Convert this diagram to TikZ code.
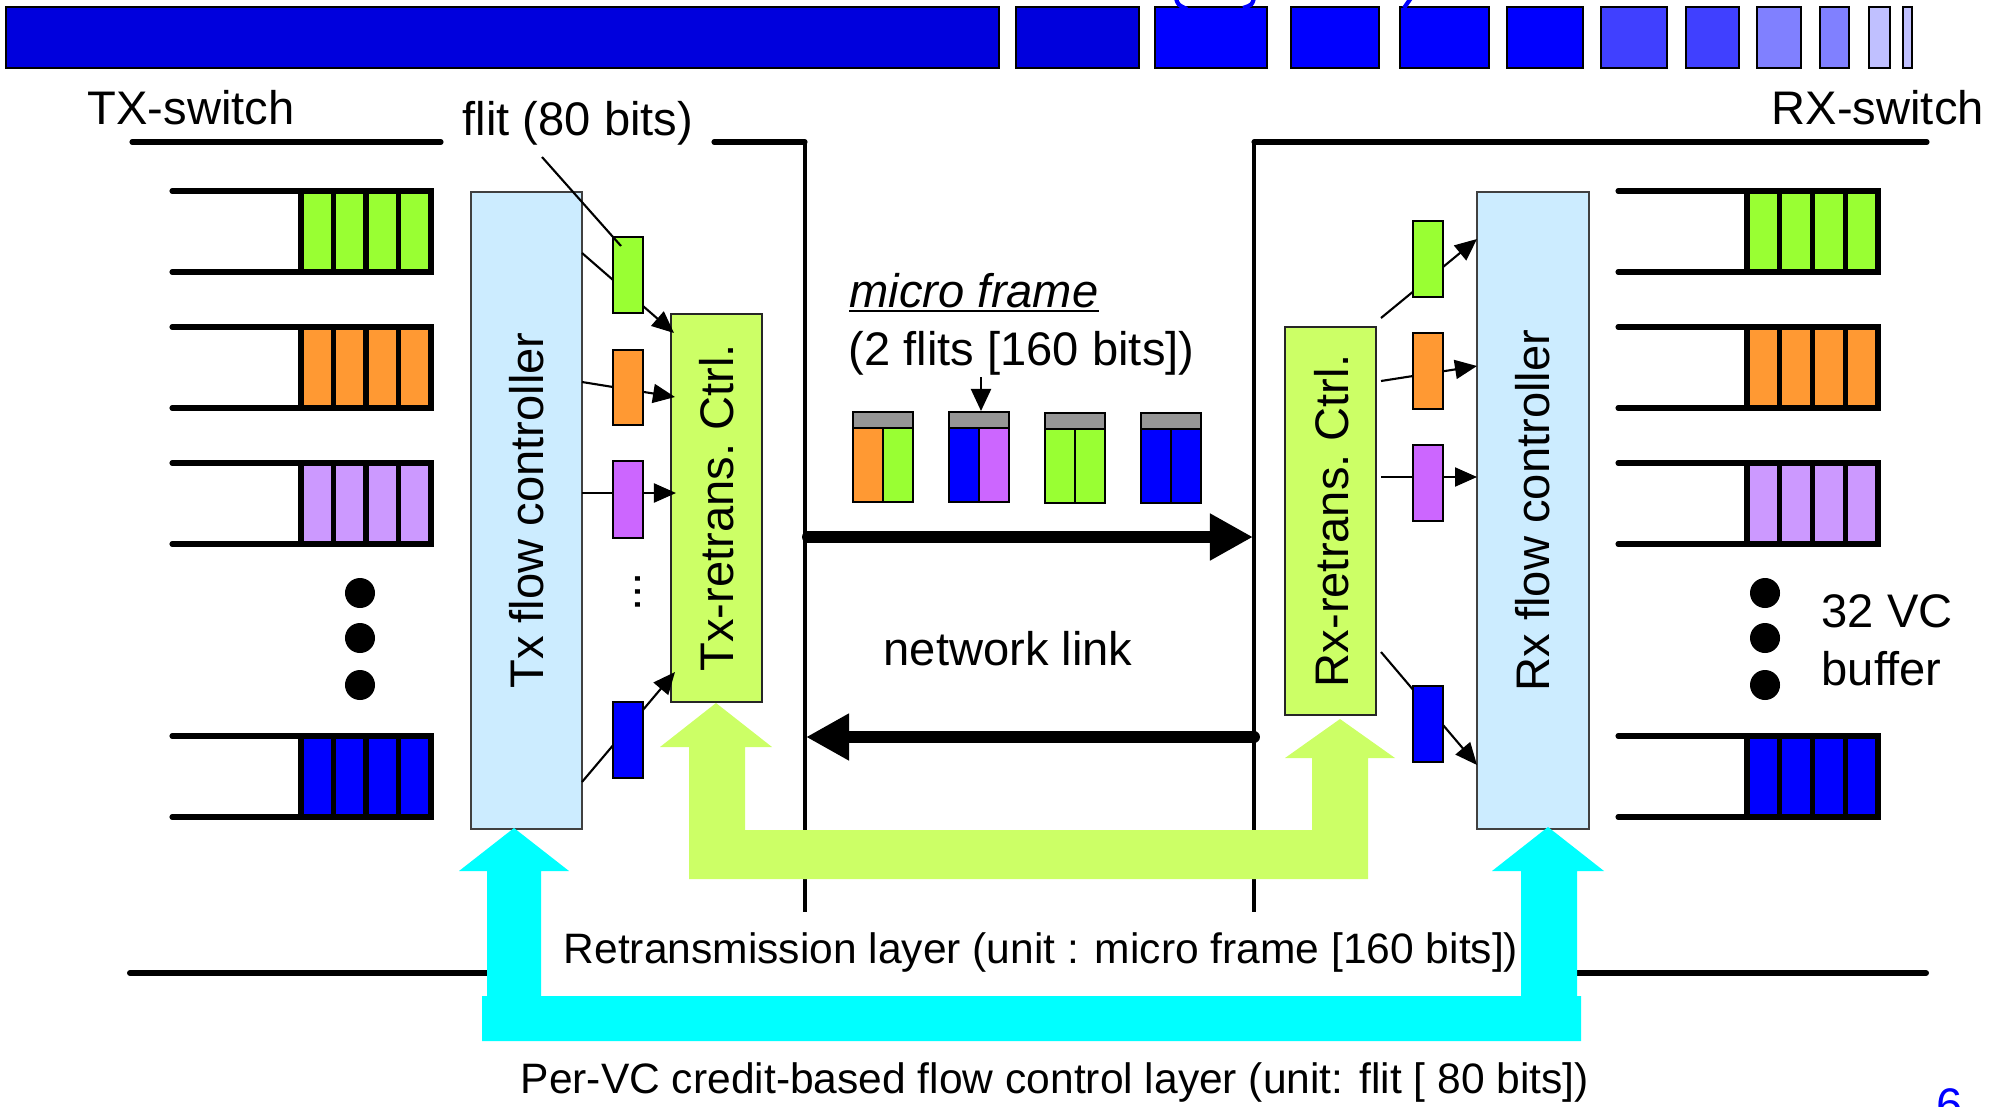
\documentclass[tikz,border=0pt]{standalone}
\usepackage{fontspec}
\setmainfont{Liberation Sans}
\usetikzlibrary{arrows.meta,fit}

\definecolor{flitgreen}{HTML}{99FF33}
\definecolor{flitorange}{HTML}{FF9933}
\definecolor{queuepurple}{HTML}{CC99FF}
\definecolor{flitpurple}{HTML}{CC66FF}
\definecolor{ctrlblue}{HTML}{CCECFF}
\definecolor{retransgreen}{HTML}{CCFF66}
\definecolor{headergray}{HTML}{969696}
\definecolor{creditcyan}{HTML}{00FFFF}

\newcommand\mainsize{\fontsize{13.4pt}{16pt}\selectfont}
\newcommand\layersize{\fontsize{12.1pt}{14.5pt}\selectfont}

% VC queue: #1 line start x, #2 box left, #3 box right, #4 top y, #5 colour
\newcommand\vcqueue[5]{%
  \fill[#5] (#2,#4) rectangle (#3,{#4+81});
  \draw[thk] (#1,#4) -- (#3,#4);
  \draw[thk] (#1,{#4+81}) -- (#3,{#4+81});
  \draw[thk,line cap=butt,line join=miter] (#2,#4) rectangle (#3,{#4+81});
  \foreach \k in {1,2,3}
    \draw[thk,line cap=butt] ({#2+\k*(#3-#2)/4},#4) -- ({#2+\k*(#3-#2)/4},{#4+81});
}

% micro frame: #1 left x, #2 top y, #3 left flit colour, #4 right flit colour
\newcommand\microframe[4]{%
  \filldraw[fill=headergray,hair] (#1,#2) rectangle ({#1+60},{#2+16});
  \filldraw[fill=#3,hair] (#1,{#2+16}) rectangle ({#1+30},{#2+90});
  \filldraw[fill=#4,hair] ({#1+30},{#2+16}) rectangle ({#1+60},{#2+90});
}

\begin{document}
\begin{tikzpicture}[x=0.01cm,y=-0.01cm,
  thk/.style={line width=1.45pt,line cap=round},
  hair/.style={line width=0.6pt},
  flitarrow/.style={hair,-{Triangle[length=0.22cm,width=0.19cm]}},
  linkarrow/.style={line width=3.4pt,line cap=round,-{Triangle[length=0.43cm,width=0.44cm]}},
  flitbox/.style={draw=black,line width=0.6pt,inner sep=0pt},
  ctrlbox/.style={draw=black!75,line width=0.6pt,fill=ctrlblue,inner sep=0pt},
  rtbox/.style={draw=black!85,line width=0.6pt,fill=retransgreen,inner sep=0pt},
  topbar/.style={draw=black,line width=0.5pt},
  lbl/.style={inner sep=0pt,anchor=base west,font=\mainsize},
  vlbl/.style={inner sep=0pt,rotate=90,font=\mainsize},
]
\useasboundingbox (0,0) rectangle (2000,1106);
\clip (0,0) rectangle (2000,1106);

% ---- title bar ----
\foreach \a/\b/\c in {6/999/0000DD,1016/1139/0000DD,1155/1267/0000FF,1291/1379/0000FF,
    1400/1489/0000FF,1507/1583/0000FF,1601/1667/4040FF,1686/1739/4040FF,
    1757/1801/8080FF,1820/1849/8080FF,1869/1890/C0C0FF,1903/1912/C0C0FF}{
  \definecolor{barfill}{HTML}{\c}
  \draw[topbar,fill=barfill] (\a,7) rectangle (\b,68);
}
\draw[blue,line width=1.2pt] (1176,-2) .. controls (1178,5) .. (1187,9);
\draw[blue,line width=1.2pt] (1254,-2) .. controls (1252,5) .. (1243,8);
\draw[blue,line width=1.2pt] (1411,-2) -- (1404,8);

% ---- switch outlines and layer boundary ----
\draw[thk] (132,142) -- (441,142);
\draw[thk] (714,142) -- (805,142);
\draw[line width=1.3pt] (805,142) -- (805,912);
\draw[thk] (1927,142) -- (1254,142);
\draw[line width=1.3pt] (1254,142) -- (1254,912);
\draw[line width=1.7pt,line cap=round] (130,973) -- (488,973);
\draw[line width=1.7pt,line cap=round] (1576,973) -- (1926,973);

% ---- VC buffers ----
\vcqueue{172}{301}{431}{191}{flitgreen}
\vcqueue{172}{301}{431}{327}{flitorange}
\vcqueue{172}{301}{431}{463}{queuepurple}
\vcqueue{172}{301}{431}{736}{blue}
\vcqueue{1618}{1747}{1878}{191}{flitgreen}
\vcqueue{1618}{1747}{1878}{327}{flitorange}
\vcqueue{1618}{1747}{1878}{463}{queuepurple}
\vcqueue{1618}{1747}{1878}{736}{blue}
\foreach \yy in {593,638,685}{
  \fill (360,\yy) circle[radius=0.15cm];
  \fill (1765,\yy) circle[radius=0.15cm];
}

% ---- controllers ----
\node[ctrlbox,fit={(471,192) (582,829)}] (txfc) {};
\node[vlbl] at (txfc.center) {Tx flow controller};
\node[rtbox,fit={(671,314) (762,702)}] (txrc) {};
\node[vlbl] at (txrc.center) {Tx-retrans.\ Ctrl.};
\node[ctrlbox,fit={(1477,192) (1589,829)}] (rxfc) {};
\node[vlbl] at (rxfc.center) {Rx flow controller};
\node[rtbox,fit={(1285,327) (1376,715)}] (rxrc) {};
\node[vlbl] at ([xshift=0.3pt]rxrc.center) {Rx-retrans.\ Ctrl.};

% ---- flits leaving the Tx flow controller ----
\coordinate (tg0) at (582,253); \coordinate (tg1) at (674,333);
\coordinate (to0) at (582,382); \coordinate (to1) at (675,397);
\coordinate (tp0) at (582,493); \coordinate (tp1) at (676,493);
\coordinate (tb0) at (582,782); \coordinate (tb1) at (675,672);
\draw[flitarrow] (tg0) -- (tg1);
\draw[flitarrow] (to0) -- (to1);
\draw[flitarrow] (tp0) -- (tp1);
\draw[flitarrow] (tb0) -- (tb1);
\node[flitbox,fill=flitgreen,fit={(613,237) (643,313)}] (tf1) {};
\node[flitbox,fill=flitorange,fit={(613,350) (643,425)}] (tf2) {};
\node[flitbox,fill=flitpurple,fit={(613,461) (643,538)}] (tf3) {};
\node[flitbox,fill=blue,fit={(613,702) (643,778)}] (tf4) {};
\node[vlbl] (tdots) at (638,592) {...};

% ---- flits entering the Rx flow controller ----
\coordinate (rg0) at (1381,318); \coordinate (rg1) at (1477,239);
\coordinate (ro0) at (1381,381); \coordinate (ro1) at (1477,366);
\coordinate (rp0) at (1381,477); \coordinate (rp1) at (1477,477);
\coordinate (rb0) at (1381,652); \coordinate (rb1) at (1477,765);
\draw[flitarrow] (rg0) -- (rg1);
\draw[flitarrow] (ro0) -- (ro1);
\draw[flitarrow] (rp0) -- (rp1);
\draw[flitarrow] (rb0) -- (rb1);
\node[flitbox,fill=flitgreen,fit={(1413,221) (1443,297)}] (rf1) {};
\node[flitbox,fill=flitorange,fit={(1413,333) (1443,409)}] (rf2) {};
\node[flitbox,fill=flitpurple,fit={(1413,445) (1443,521)}] (rf3) {};
\node[flitbox,fill=blue,fit={(1413,686) (1443,762)}] (rf4) {};

% ---- flit label ----
\node[lbl] (flitlbl) at (462,135) {flit (80 bits)};
\coordinate (flitlead) at (542,157);
\coordinate (flitpt) at (621,246);
\draw[hair] (flitlead) -- (flitpt);

% ---- micro frames on the link ----
\node[lbl,font=\mainsize\itshape] (mflbl) at (849,307) {micro frame};
\draw[line width=0.6pt] ([yshift=-1.1pt]mflbl.base west) -- ([yshift=-1.1pt]mflbl.base east);
\node[lbl] (mfsub) at (848,365) {(2 flits [160 bits])};
\microframe{853}{412}{flitorange}{flitgreen}
\microframe{949}{412}{blue}{flitpurple}
\microframe{1045}{413}{flitgreen}{flitgreen}
\microframe{1141}{413}{blue}{blue}
\coordinate (mfsrc) at (981,377);
\coordinate (mftop) at (981,411);
\draw[hair,-{Triangle[length=0.22cm,width=0.2cm]}] (mfsrc) -- (mftop);

% ---- network link ----
\coordinate (fwdA) at (808,537); \coordinate (fwdB) at (1253,537);
\coordinate (bwdA) at (1254,737); \coordinate (bwdB) at (806,737);
\draw[linkarrow] (fwdA) -- (fwdB);
\draw[linkarrow] (bwdA) -- (bwdB);
\node[lbl] (nlink) at (883,665) {network link};

% ---- retransmission layer loop ----
\fill[retransgreen] (716,703) -- (772,747) -- (745,747) -- (745,830) -- (1312,830)
  -- (1312,758) -- (1285,758) -- (1340,719) -- (1395,758) -- (1368,758)
  -- (1368,879) -- (689,879) -- (689,747) -- (660,747) -- cycle;

% ---- credit-based flow control loop ----
\fill[creditcyan] (514,828) -- (569,871) -- (541,871) -- (541,996) -- (1521,996)
  -- (1521,871) -- (1492,871) -- (1548,827) -- (1604,871) -- (1577,871)
  -- (1577,996) -- (1581,996) -- (1581,1041) -- (482,1041) -- (482,996)
  -- (487,996) -- (487,871) -- (459,871) -- cycle;

% ---- remaining labels ----
\node[lbl] (txsw) at (87,124) {TX-switch};
\node[lbl] (rxsw) at (1771,124) {RX-switch};
\node[lbl] (vc1) at (1821,627) {32 VC};
\node[lbl] (vc2) at (1821,685) {buffer};
\node[lbl,font=\layersize] (rtl) at (563,963) {Retransmission layer (unit : micro frame [160 bits])};
\node[lbl,font=\layersize] (fcl) at (520,1093) {Per-VC credit-based flow control layer (unit: flit [ 80 bits])};
\node[lbl,text=blue] (pg) at (1936,1121) {6};
\end{tikzpicture}
\end{document}
